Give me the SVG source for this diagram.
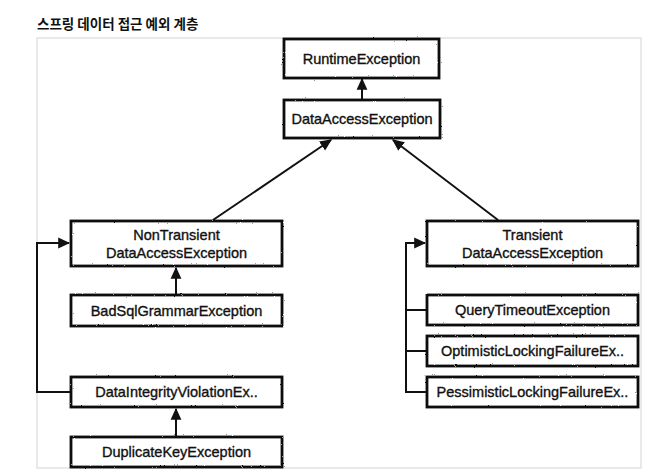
<svg xmlns="http://www.w3.org/2000/svg" width="648" height="473" viewBox="0 0 648 473">
  <style>
    .box { fill: #ffffff; stroke: #111111; stroke-width: 2.8; filter: url(#rough); }
    .lbl { font-family: "Liberation Sans", Arial, sans-serif; font-size: 14.5px; fill: #111111; stroke: #111111; stroke-width: 0.35; text-anchor: middle; }
    .con { fill: none; stroke: #111111; stroke-width: 2; }
    .title { font-family: "Noto Sans CJK KR", "Noto Sans", sans-serif; font-size: 13.5px; font-weight: bold; fill: #111111; }
  </style>
  <defs>
    <filter id="rough" x="-5%" y="-20%" width="110%" height="140%">
      <feTurbulence type="fractalNoise" baseFrequency="0.9" numOctaves="2" seed="3" result="n"/>
      <feDisplacementMap in="SourceGraphic" in2="n" scale="1.8" xChannelSelector="R" yChannelSelector="G"/>
    </filter>
    <marker id="arr" viewBox="0 0 10 10" refX="9" refY="5" markerWidth="6" markerHeight="6" orient="auto" markerUnits="strokeWidth">
      <path d="M0,0.5 L10,5 L0,9.5 z" fill="#111111"/>
    </marker>
  </defs>
  <rect width="648" height="473" fill="#ffffff"/>
  <text class="title" x="37" y="29">스프링 데이터 접근 예외 계층</text>
  <rect x="37" y="38" width="604" height="430" fill="#ffffff" stroke="#e2e2e2" stroke-width="1.5"/>

  <g id="connectors">
    <line class="con" x1="362" y1="100" x2="362" y2="79" marker-end="url(#arr)"/>
    <line class="con" x1="213" y1="220" x2="331" y2="140" marker-end="url(#arr)"/>
    <line class="con" x1="498" y1="220" x2="393" y2="140" marker-end="url(#arr)"/>
    <line class="con" x1="176" y1="295" x2="176" y2="268" marker-end="url(#arr)"/>
    <line class="con" x1="176" y1="437" x2="176" y2="409" marker-end="url(#arr)"/>
    <path class="con" d="M71,392 H37 V243 H69" marker-end="url(#arr)"/>
    <path class="con" d="M427,392 H406 V243 H425" marker-end="url(#arr)"/>
    <path class="con" d="M406,310 H427 M406,351 H427"/>
  </g>

  <g id="runtime">
    <rect class="box" x="284" y="39" width="155" height="39"/>
    <text class="lbl" x="361.5" y="64">RuntimeException</text>
  </g>
  <g id="dataaccess">
    <rect class="box" x="284" y="100" width="156" height="38"/>
    <text class="lbl" x="362" y="124">DataAccessException</text>
  </g>
  <g id="nontransient">
    <rect class="box" x="71" y="221" width="211" height="45"/>
    <text class="lbl" x="176.5" y="240">NonTransient</text>
    <text class="lbl" x="176.5" y="258">DataAccessException</text>
  </g>
  <g id="transient">
    <rect class="box" x="427" y="221" width="211" height="45"/>
    <text class="lbl" x="532.5" y="240">Transient</text>
    <text class="lbl" x="532.5" y="258">DataAccessException</text>
  </g>
  <g id="badsql">
    <rect class="box" x="71" y="295" width="211" height="31"/>
    <text class="lbl" x="176.5" y="316">BadSqlGrammarException</text>
  </g>
  <g id="dataintegrity">
    <rect class="box" x="71" y="377" width="211" height="30"/>
    <text class="lbl" x="176.5" y="397">DataIntegrityViolationEx..</text>
  </g>
  <g id="duplicatekey">
    <rect class="box" x="71" y="437" width="211" height="30"/>
    <text class="lbl" x="176.5" y="457">DuplicateKeyException</text>
  </g>
  <g id="querytimeout">
    <rect class="box" x="427" y="295" width="211" height="30"/>
    <text class="lbl" x="532.5" y="315">QueryTimeoutException</text>
  </g>
  <g id="optimistic">
    <rect class="box" x="427" y="336" width="211" height="30"/>
    <text class="lbl" x="532.5" y="356">OptimisticLockingFailureEx..</text>
  </g>
  <g id="pessimistic">
    <rect class="box" x="427" y="377" width="211" height="30"/>
    <text class="lbl" x="532.5" y="397">PessimisticLockingFailureEx..</text>
  </g>
</svg>
